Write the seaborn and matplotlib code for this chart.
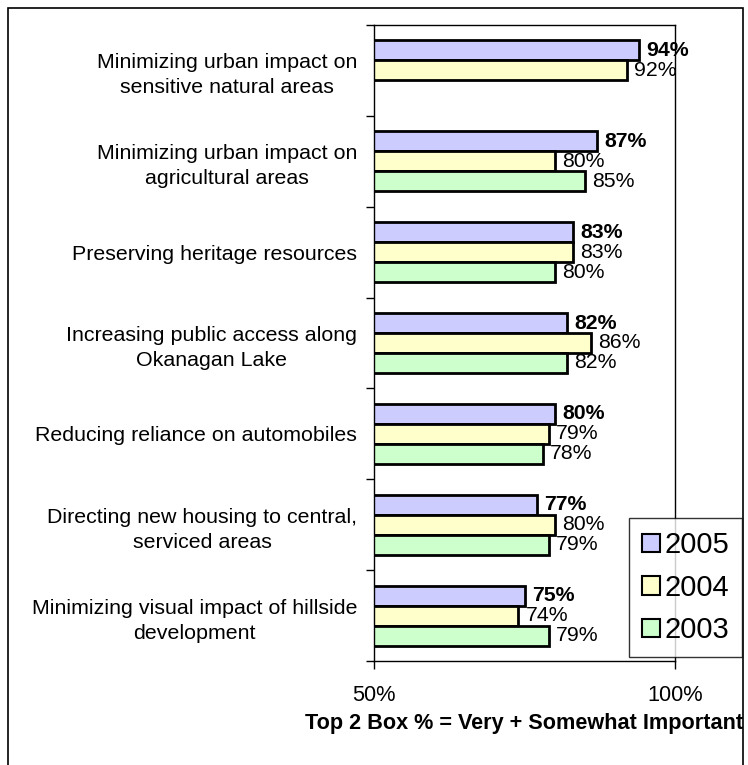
import numpy as np
import pandas as pd
import seaborn as sns
import matplotlib.pyplot as plt
from matplotlib.patches import Rectangle

# Datos del grafico
items = [
    "Minimizing urban impact on\nsensitive natural areas",
    "Minimizing urban impact on\nagricultural areas",
    "Preserving heritage resources",
    "Increasing public access along\nOkanagan Lake",
    "Reducing reliance on automobiles",
    "Directing new housing to central,\nserviced areas",
    "Minimizing visual impact of hillside\ndevelopment",
]
years = ["2005", "2004", "2003"]
vals_2005 = [94, 87, 83, 82, 80, 77, 75]
vals_2004 = [92, 80, 83, 86, 79, 80, 74]
vals_2003 = [np.nan, 85, 80, 82, 78, 79, 79]
colors = {"2005": "#CCCCFF", "2004": "#FFFFCC", "2003": "#CCFFCC"}

df = pd.DataFrame({
    "item": items * 3,
    "year": ["2005"] * 7 + ["2004"] * 7 + ["2003"] * 7,
    "value": vals_2005 + vals_2004 + vals_2003,
}).dropna()

sns.set_style("white")
plt.rcParams["font.family"] = ["Liberation Sans", "DejaVu Sans"]
plt.rcParams["text.color"] = "black"
plt.rcParams["axes.labelcolor"] = "black"
plt.rcParams["xtick.color"] = "black"
plt.rcParams["ytick.color"] = "black"

fig = plt.figure(figsize=(7.48, 7.65), dpi=100)
ax = fig.add_axes([374 / 748, 1 - 661 / 765, (675 - 374) / 748, (661 - 25) / 765])

sns.barplot(data=df, x="value", y="item", hue="year", order=items,
            hue_order=years, palette=colors, orient="h", width=0.66,
            edgecolor="black", linewidth=2, saturation=1, ax=ax, legend=False)

ax.set_xlim(50, 100)
ax.set_ylim(len(items) - 0.5, -0.5)

# Etiquetas de valores
for cont, yr in zip(ax.containers, years):
    ax.bar_label(cont, fmt="{:.0f}%", padding=5.5, fontsize=15.3,
                 fontweight="bold" if yr == "2005" else "normal")

# Ejes
ax.set_xticks([50, 100])
ax.set_xticklabels(["50%", "100%"], fontsize=15.7)
ax.tick_params(axis="x", direction="out", length=6, width=1, pad=11,
               bottom=True)
ax.set_xlabel("Top 2 Box % = Very + Somewhat Important", fontsize=15.6,
              fontweight="bold", labelpad=5)

ax.set_yticks(np.arange(len(items) + 1) - 0.5)
ax.set_yticklabels([])
ax.set_yticks(np.arange(len(items)), minor=True)
ax.set_yticklabels(items, minor=True, fontsize=15.4)
for lbl in ax.get_yticklabels(minor=True):
    lbl.set_multialignment("center")
    lbl.set_linespacing(1.4)
ax.tick_params(axis="y", which="major", direction="out", length=6, width=1,
               left=True)
ax.tick_params(axis="y", which="minor", length=0, pad=12)
ax.set_ylabel("")

for sp in ax.spines.values():
    sp.set_visible(True)
    sp.set_color("black")
    sp.set_linewidth(1)

# Leyenda
handles = [Rectangle((0, 0), 1, 1, facecolor=colors[y], edgecolor="black",
                     linewidth=1.5) for y in years]
leg = fig.legend(handles, years, loc="upper left",
                 bbox_to_anchor=(629 / 748, 1 - 518 / 765), fontsize=21,
                 frameon=True, fancybox=False, handlelength=0.6,
                 handleheight=0.6, handletextpad=0.15, labelspacing=0.5,
                 borderpad=0.45, borderaxespad=0)
leg.get_frame().set_edgecolor("black")
leg.get_frame().set_linewidth(1)

# Marco exterior
fig.add_artist(Rectangle((8 / 748, -0.05), (743 - 8) / 748, 1.05 - 8 / 765,
                         transform=fig.transFigure, fill=False,
                         edgecolor="black", linewidth=1.2))

plt.savefig("out.png", dpi=100)
plt.close()
